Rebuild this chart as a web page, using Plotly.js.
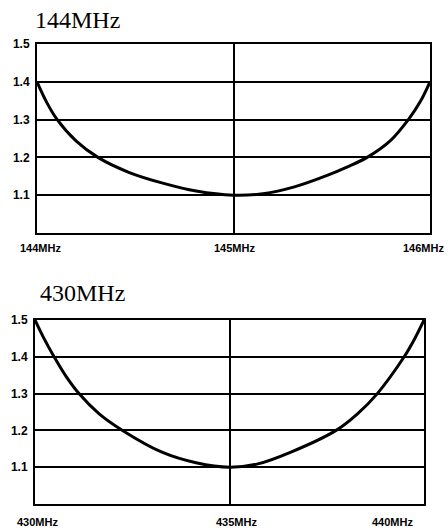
<!DOCTYPE html>
<html>
<head>
<meta charset="utf-8">
<script src="https://cdn.plot.ly/plotly-3.0.1.min.js"></script>
<style>html,body{margin:0;padding:0;background:#fff;}#chart{width:448px;height:528px;}</style>
</head>
<body>
<div id="chart"></div>
<script>
// 144MHz band SWR curve
const freq144 = [144.00, 144.05, 144.10, 144.20, 144.31, 144.47, 144.64, 144.81, 145.00, 145.15, 145.31, 145.48, 145.58, 145.68, 145.80, 145.89, 145.95, 146.00];
const swr144  = [1.40, 1.345, 1.302, 1.243, 1.20, 1.16, 1.132, 1.111, 1.10, 1.104, 1.122, 1.153, 1.175, 1.20, 1.245, 1.30, 1.347, 1.40];
// 430MHz band SWR curve
const freq430 = [430.00, 430.23, 430.49, 430.79, 431.13, 431.65, 432.25, 433.28, 434.14, 435.00, 435.73, 436.58, 437.74, 438.29, 438.80, 439.49, 439.74, 440.00];
const swr430  = [1.50, 1.45, 1.40, 1.348, 1.30, 1.245, 1.20, 1.14, 1.112, 1.10, 1.109, 1.141, 1.20, 1.245, 1.30, 1.40, 1.445, 1.50];

const yTickVals = [1.1, 1.2, 1.3, 1.4, 1.5];
const yTickText = ['1.1', '1.2', '1.3', '1.4', '1.5'];
const xTicks144 = [144, 145, 146];
const xLabels144 = ['144MHz', '145MHz', '146MHz'];
const xTicks430 = [430, 435, 440];
const xLabels430 = ['430MHz', '435MHz', '440MHz'];
const titles = ['144MHz', '430MHz'];

const W = 448, H = 528;
const px = v => v / W;
const py = v => 1 - v / H;

const lineStyle = {color: '#000', width: 3, shape: 'spline', smoothing: 1.0};

const traces = [
  {x: freq144, y: swr144, xaxis: 'x', yaxis: 'y', mode: 'lines', line: lineStyle, hoverinfo: 'skip'},
  {x: freq430, y: swr430, xaxis: 'x2', yaxis: 'y2', mode: 'lines', line: lineStyle, hoverinfo: 'skip'}
];

function xAxis(domain, range, ticks) {
  return {
    domain: domain, range: range, tickvals: ticks, showticklabels: false,
    showgrid: true, gridcolor: '#000', gridwidth: 2, zeroline: false,
    showline: true, linecolor: '#000', linewidth: 2, mirror: true, ticks: '',
    fixedrange: true
  };
}
function yAxis(domain, anchor) {
  return {
    domain: domain, range: [1.0, 1.5], tickvals: yTickVals, ticktext: yTickText,
    anchor: anchor, showgrid: true, gridcolor: '#000', gridwidth: 2, zeroline: false,
    showline: true, linecolor: '#000', linewidth: 2, mirror: true,
    ticks: 'outside', ticklen: 3, tickcolor: 'rgba(0,0,0,0)',
    tickfont: {family: 'Liberation Sans, Arial, sans-serif', size: 12, color: '#000', weight: 'bold'},
    fixedrange: true
  };
}

const labelFont = {family: 'Liberation Sans, Arial, sans-serif', size: 11, color: '#000', weight: 'bold'};
const annotations = [];
const shifts144 = [3, 1, -7];
const shifts430 = [2, 7, -32];
xTicks144.forEach((v, i) => annotations.push({
  x: v, xref: 'x', y: py(248), yref: 'paper', text: xLabels144[i], showarrow: false,
  xanchor: 'center', yanchor: 'middle', xshift: shifts144[i], font: labelFont
}));
xTicks430.forEach((v, i) => annotations.push({
  x: v, xref: 'x2', y: py(522), yref: 'paper', text: xLabels430[i], showarrow: false,
  xanchor: 'center', yanchor: 'middle', xshift: shifts430[i], font: labelFont
}));
const titleFont = {family: 'Liberation Serif, Times New Roman, serif', size: 24, color: '#000'};
annotations.push({x: px(33), y: py(20), xref: 'paper', yref: 'paper', text: titles[0], showarrow: false, xanchor: 'left', yanchor: 'middle', font: titleFont});
annotations.push({x: px(38), y: py(293), xref: 'paper', yref: 'paper', text: titles[1], showarrow: false, xanchor: 'left', yanchor: 'middle', font: titleFont});

const layout = {
  width: W, height: H,
  margin: {l: 0, r: 0, t: 0, b: 0},
  paper_bgcolor: '#fff', plot_bgcolor: '#fff',
  showlegend: false,
  xaxis: xAxis([px(37), px(430)], [144, 146], xTicks144),
  yaxis: yAxis([py(233), py(44)], 'x'),
  xaxis2: Object.assign(xAxis([px(35), px(424)], [430, 440], xTicks430), {anchor: 'y2'}),
  yaxis2: yAxis([py(504), py(320)], 'x2'),
  annotations: annotations
};
layout.xaxis.anchor = 'y';

Plotly.newPlot('chart', traces, layout, {displayModeBar: false, staticPlot: true});
</script>
</body>
</html>
